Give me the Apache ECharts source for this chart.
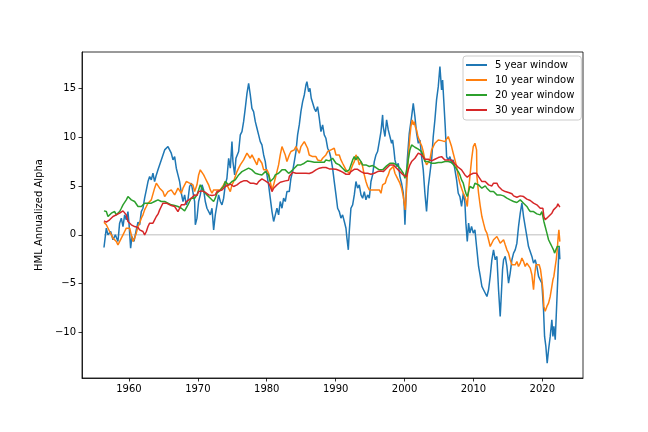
<!DOCTYPE html>
<html>
<head>
<meta charset="utf-8">
<script src="https://cdn.jsdelivr.net/npm/echarts@6/dist/echarts.min.js"></script>
<style>
  html, body { margin: 0; padding: 0; background: #fff; }
  #chart { width: 648px; height: 432px; }
</style>
</head>
<body>
<div id="chart"></div>
<script>
// rolling alpha of HML, [year, annualized alpha %]
var seriesNames = ['5 year window', '10 year window', '20 year window', '30 year window'];
var seriesColors = ['#1f77b4', '#ff7f0e', '#2ca02c', '#d62728'];
var xTicks = [1960, 1970, 1980, 1990, 2000, 2010, 2020];
var yTicks = [-10, -5, 0, 5, 10, 15];
var zeroLine = [[1956.37, 0], [2022.55, 0]];

var alpha5 = [
  [1956.37,-1.30],[1956.71,0.68],[1956.95,0.00],[1957.34,0.34],[1957.68,-0.51],[1958.02,0.00],[1958.40,-0.68],
  [1958.64,1.20],[1958.89,1.71],[1959.13,0.85],[1959.37,2.05],[1959.61,1.54],[1959.85,2.39],[1960.00,1.20],
  [1960.24,-1.37],[1960.43,-0.17],[1960.73,-0.68],[1961.06,0.51],[1961.31,1.30],[1961.55,1.03],[1961.79,2.39],
  [1962.03,2.73],[1962.27,3.76],[1962.52,4.62],[1962.76,5.47],[1963.00,5.98],[1963.24,5.64],[1963.48,6.32],
  [1963.72,5.47],[1963.97,6.15],[1964.21,6.67],[1964.45,6.84],[1964.69,7.69],[1964.93,7.86],[1965.18,8.72],
  [1965.42,8.55],[1965.66,9.06],[1965.90,9.23],[1966.14,8.38],[1966.39,7.69],[1966.63,8.03],[1966.87,6.84],
  [1967.11,6.15],[1967.35,5.47],[1967.60,4.27],[1967.84,3.42],[1968.08,4.10],[1968.32,3.08],[1968.56,3.59],
  [1968.80,4.96],[1969.05,5.30],[1969.29,5.13],[1969.53,3.42],[1969.63,1.03],[1969.87,1.71],[1970.11,3.42],
  [1970.35,4.10],[1970.60,5.13],[1970.84,4.61],[1971.08,3.42],[1971.32,2.73],[1971.56,2.90],[1971.81,2.05],
  [1972.05,2.73],[1972.29,0.51],[1972.53,2.05],[1972.77,3.08],[1973.01,4.10],[1973.26,3.42],[1973.50,3.08],
  [1973.74,3.76],[1973.98,5.13],[1974.22,5.81],[1974.47,7.86],[1974.71,6.84],[1974.95,9.57],[1975.09,7.52],
  [1975.34,6.15],[1975.53,7.86],[1975.92,8.55],[1976.16,10.26],[1976.40,10.60],[1976.64,11.62],[1976.88,12.99],
  [1977.13,14.53],[1977.37,15.56],[1977.61,14.36],[1977.85,12.99],[1978.09,12.65],[1978.34,11.62],[1978.58,10.94],
  [1978.82,10.26],[1979.06,9.57],[1979.30,9.23],[1979.55,8.20],[1979.79,7.52],[1980.03,6.15],[1980.27,5.13],
  [1980.51,3.76],[1980.76,2.39],[1981.00,1.37],[1981.24,2.05],[1981.48,2.73],[1981.72,2.05],[1981.96,3.42],
  [1982.21,2.73],[1982.45,3.76],[1982.69,3.42],[1982.93,4.44],[1983.17,4.61],[1983.27,4.44],[1983.51,5.81],
  [1983.75,6.49],[1984.00,7.52],[1984.24,8.55],[1984.48,10.26],[1984.72,11.28],[1984.96,12.65],[1985.21,13.67],
  [1985.45,14.36],[1985.69,15.38],[1985.83,15.73],[1986.08,14.70],[1986.27,15.04],[1986.46,14.02],[1986.66,14.19],
  [1986.90,12.99],[1987.14,12.65],[1987.38,13.16],[1987.63,11.96],[1987.87,10.60],[1988.11,11.28],[1988.35,10.26],
  [1988.59,9.91],[1988.84,8.89],[1989.08,8.55],[1989.32,7.86],[1989.56,6.84],[1989.80,5.47],[1990.05,4.10],
  [1990.29,2.73],[1990.53,2.39],[1990.77,1.71],[1991.01,2.05],[1991.26,1.37],[1991.50,0.68],[1991.64,-0.34],
  [1991.84,-1.54],[1991.98,0.34],[1992.22,2.73],[1992.47,3.08],[1992.71,4.10],[1992.95,5.47],[1993.19,4.79],
  [1993.43,5.13],[1993.68,4.10],[1993.92,3.76],[1994.16,4.44],[1994.40,3.59],[1994.64,4.10],[1994.89,3.76],
  [1995.13,5.47],[1995.37,6.15],[1995.61,7.52],[1995.85,8.20],[1996.09,8.55],[1996.34,9.57],[1996.58,10.60],
  [1996.82,12.31],[1996.91,11.11],[1997.16,10.09],[1997.40,11.80],[1997.64,10.77],[1997.88,10.09],[1998.12,9.40],
  [1998.27,9.74],[1998.46,8.72],[1998.61,7.69],[1998.85,7.01],[1999.09,7.35],[1999.33,5.98],[1999.57,5.30],
  [1999.82,4.27],[1999.96,2.91],[2000.06,1.03],[2000.20,3.59],[2000.40,7.69],[2000.69,10.43],[2001.03,12.14],
  [2001.27,13.50],[2001.51,12.14],[2001.75,10.43],[2002.00,9.40],[2002.24,9.74],[2002.48,8.03],[2002.72,6.67],
  [2002.96,4.27],[2003.20,2.39],[2003.45,4.96],[2003.69,6.32],[2003.93,7.69],[2004.17,10.09],[2004.41,11.80],
  [2004.65,13.85],[2004.90,15.21],[2005.14,17.27],[2005.38,14.87],[2005.53,15.90],[2005.72,13.50],[2005.91,11.11],
  [2006.11,8.03],[2006.35,7.69],[2006.59,8.03],[2006.83,7.35],[2007.07,7.69],[2007.32,6.67],[2007.56,5.64],
  [2007.80,4.27],[2008.04,3.93],[2008.28,2.91],[2008.53,4.27],[2008.77,3.25],[2008.91,1.20],[2009.11,-0.68],
  [2009.30,1.20],[2009.49,0.17],[2009.73,0.85],[2009.98,0.17],[2010.22,0.51],[2010.46,-1.20],[2010.51,-1.54],
  [2010.75,-3.25],[2011.00,-4.27],[2011.23,-5.30],[2011.47,-5.64],[2011.72,-5.81],[2011.96,-6.33],[2012.20,-5.64],
  [2012.44,-4.27],[2012.68,-2.56],[2012.92,-1.54],[2013.17,-2.56],[2013.41,-2.22],[2013.65,-5.64],[2013.89,-8.38],
  [2014.04,-6.33],[2014.23,-3.59],[2014.38,-2.56],[2014.62,-2.22],[2014.86,-3.25],[2015.10,-4.96],[2015.34,-3.93],
  [2015.59,-2.56],[2015.83,-1.88],[2016.07,-1.54],[2016.31,-0.86],[2016.55,0.85],[2016.80,2.22],[2017.04,3.25],
  [2017.28,1.88],[2017.52,0.85],[2017.76,-0.17],[2018.00,-1.20],[2018.25,-1.20],[2018.49,-2.22],[2018.73,-2.91],
  [2018.97,-2.56],[2019.21,-3.25],[2019.46,-4.27],[2019.70,-4.62],[2019.94,-4.96],[2020.18,-7.69],[2020.33,-10.43],
  [2020.52,-11.46],[2020.71,-13.17],[2020.91,-11.80],[2021.15,-10.43],[2021.39,-8.72],[2021.54,-10.43],[2021.68,-9.40],
  [2021.88,-10.77],[2022.12,-6.67],[2022.26,-4.27],[2022.41,-1.54],[2022.46,-1.20],[2022.55,-2.50]
];

var alpha10 = [
  [1956.37,1.30],[1956.71,1.03],[1956.95,1.09],[1957.19,0.34],[1957.44,0.00],[1957.68,-0.34],[1957.92,-0.51],
  [1958.16,-0.68],[1958.40,-1.03],[1958.64,-0.86],[1958.89,-0.34],[1959.13,0.00],[1959.37,0.34],[1959.61,0.68],
  [1959.85,0.85],[1960.10,0.68],[1960.34,0.00],[1960.58,-0.68],[1960.82,-0.34],[1961.06,0.17],[1961.31,0.85],
  [1961.55,1.20],[1961.79,1.71],[1962.03,2.05],[1962.27,2.56],[1962.52,2.91],[1962.76,3.25],[1963.00,3.42],
  [1963.24,3.59],[1963.48,3.76],[1963.72,4.79],[1963.97,5.30],[1964.21,5.30],[1964.45,4.79],[1964.69,4.62],
  [1964.93,4.44],[1965.18,3.93],[1965.42,3.93],[1965.66,4.44],[1965.90,4.27],[1966.14,4.62],[1966.39,4.44],
  [1966.63,4.10],[1966.87,4.44],[1967.11,4.79],[1967.35,4.62],[1967.60,4.27],[1967.84,4.79],[1968.08,5.13],
  [1968.32,5.47],[1968.56,5.64],[1968.80,5.30],[1969.05,5.47],[1969.29,5.13],[1969.53,4.44],[1969.87,5.13],
  [1970.11,6.15],[1970.35,6.67],[1970.60,6.49],[1970.84,6.15],[1971.08,5.81],[1971.32,5.47],[1971.56,5.13],
  [1971.81,4.61],[1972.05,4.27],[1972.29,4.61],[1972.53,4.44],[1972.77,4.61],[1973.01,4.79],[1973.26,4.61],
  [1973.50,4.79],[1973.74,5.13],[1973.98,5.47],[1974.22,5.13],[1974.47,4.96],[1974.71,4.44],[1974.95,5.13],
  [1975.19,5.47],[1975.43,5.98],[1975.68,6.49],[1975.92,6.84],[1976.16,7.18],[1976.40,7.35],[1976.64,7.69],
  [1976.88,7.86],[1977.13,8.38],[1977.37,8.20],[1977.61,7.86],[1977.85,8.20],[1978.09,8.03],[1978.34,7.52],
  [1978.58,7.18],[1978.82,7.86],[1979.06,7.69],[1979.30,7.35],[1979.55,6.67],[1979.79,6.49],[1980.03,6.67],
  [1980.27,6.32],[1980.51,5.47],[1980.76,4.61],[1981.00,5.13],[1981.24,5.81],[1981.48,6.49],[1981.72,7.18],
  [1981.96,8.20],[1982.21,9.06],[1982.45,8.89],[1982.69,8.20],[1982.93,7.52],[1983.17,7.69],[1983.27,8.20],
  [1983.51,8.55],[1983.75,8.38],[1984.00,8.72],[1984.24,9.06],[1984.48,8.72],[1984.72,8.38],[1984.96,9.06],
  [1985.21,9.23],[1985.45,9.57],[1985.69,9.40],[1985.93,8.89],[1986.17,8.20],[1986.42,8.38],[1986.66,8.03],
  [1986.90,7.86],[1987.14,8.03],[1987.38,7.69],[1987.63,7.52],[1987.87,7.59],[1988.11,7.86],[1988.35,8.03],
  [1988.59,8.20],[1988.84,8.55],[1989.08,8.38],[1989.32,8.72],[1989.56,8.55],[1989.80,8.89],[1990.05,8.20],
  [1990.29,8.38],[1990.53,8.20],[1990.77,7.69],[1991.01,7.35],[1991.26,7.01],[1991.50,6.67],[1991.74,6.49],
  [1991.98,6.32],[1992.22,6.67],[1992.47,7.18],[1992.71,7.52],[1992.95,8.20],[1993.19,7.86],[1993.43,7.18],
  [1993.68,7.52],[1993.92,7.01],[1994.16,6.15],[1994.40,5.47],[1994.64,4.96],[1994.89,4.61],[1995.13,4.79],
  [1995.37,4.61],[1995.61,4.79],[1995.85,4.61],[1996.09,4.79],[1996.34,4.61],[1996.58,4.27],[1996.82,5.13],
  [1997.01,4.96],[1997.20,5.30],[1997.40,5.81],[1997.64,6.15],[1997.88,6.67],[1998.12,6.84],[1998.37,7.01],
  [1998.61,6.32],[1998.85,5.98],[1999.09,5.81],[1999.33,5.30],[1999.57,4.78],[1999.82,3.93],[1999.96,3.25],
  [2000.11,2.56],[2000.20,3.59],[2000.40,5.98],[2000.59,8.38],[2000.78,10.09],[2000.93,11.11],[2001.12,11.80],
  [2001.27,11.28],[2001.41,11.62],[2001.56,11.11],[2001.75,10.77],[2001.95,10.09],[2002.14,10.26],[2002.33,9.40],
  [2002.53,9.06],[2002.72,8.55],[2002.96,7.69],[2003.20,7.18],[2003.45,7.01],[2003.69,7.69],[2003.93,8.72],
  [2004.17,8.89],[2004.41,9.40],[2004.65,9.57],[2004.90,9.74],[2005.14,9.74],[2005.38,9.67],[2005.62,9.74],
  [2005.86,9.57],[2006.11,9.74],[2006.35,10.09],[2006.59,9.91],[2006.83,9.06],[2007.07,8.38],[2007.32,7.69],
  [2007.56,7.01],[2007.80,5.98],[2008.04,5.30],[2008.28,4.78],[2008.53,4.27],[2008.77,3.93],[2008.91,3.59],
  [2009.11,2.91],[2009.30,4.61],[2009.49,5.98],[2009.73,7.69],[2009.98,9.06],[2010.22,9.40],[2010.46,8.72],
  [2010.51,5.98],[2010.75,4.27],[2011.00,2.91],[2011.23,1.88],[2011.47,1.20],[2011.72,0.51],[2011.96,0.17],
  [2012.20,-0.51],[2012.44,-1.20],[2012.68,-1.37],[2012.92,-0.51],[2013.17,-0.34],[2013.41,-0.17],[2013.65,-0.51],
  [2013.89,-0.86],[2014.13,-0.69],[2014.38,-0.51],[2014.62,-1.03],[2014.86,-1.54],[2015.10,-1.88],[2015.34,-2.56],
  [2015.59,-3.08],[2015.83,-2.91],[2016.07,-3.08],[2016.31,-2.74],[2016.55,-3.25],[2016.80,-2.91],[2017.04,-2.39],
  [2017.28,-2.74],[2017.52,-3.25],[2017.76,-2.91],[2018.00,-3.08],[2018.25,-3.42],[2018.49,-4.10],[2018.73,-5.64],
  [2018.88,-4.27],[2019.07,-3.08],[2019.31,-3.25],[2019.55,-3.08],[2019.75,-3.59],[2019.94,-4.62],[2020.09,-5.64],
  [2020.23,-7.35],[2020.42,-7.86],[2020.67,-7.35],[2020.91,-7.01],[2021.15,-6.33],[2021.39,-5.30],[2021.54,-4.62],
  [2021.68,-4.27],[2021.88,-3.25],[2022.02,-2.56],[2022.17,-1.54],[2022.31,-0.17],[2022.41,0.51],[2022.55,-0.70]
];

var alpha20 = [
  [1956.37,2.46],[1956.71,2.39],[1956.95,1.88],[1957.19,2.05],[1957.44,2.22],[1957.68,2.05],[1957.92,2.39],
  [1958.16,2.05],[1958.40,2.22],[1958.64,2.39],[1958.89,2.73],[1959.13,3.08],[1959.37,3.25],[1959.61,3.59],
  [1959.85,3.93],[1960.10,3.76],[1960.34,3.59],[1960.58,3.76],[1960.82,3.42],[1961.06,3.25],[1961.31,2.91],
  [1961.55,2.73],[1961.79,2.91],[1962.03,3.08],[1962.27,3.25],[1962.52,3.42],[1962.76,3.25],[1963.00,3.08],
  [1963.24,3.25],[1963.48,3.15],[1963.72,3.42],[1963.97,3.49],[1964.21,3.59],[1964.45,3.76],[1964.69,3.42],
  [1964.93,3.25],[1965.18,3.42],[1965.66,3.25],[1966.14,3.08],[1966.63,3.01],[1967.11,2.91],[1967.60,2.73],
  [1967.84,2.56],[1968.08,2.46],[1968.32,2.56],[1968.56,3.08],[1968.80,3.42],[1969.05,3.76],[1969.29,3.93],
  [1969.53,3.76],[1969.87,4.10],[1970.11,4.61],[1970.35,5.13],[1970.60,4.79],[1970.84,4.44],[1971.08,4.27],
  [1971.32,4.10],[1971.56,3.93],[1971.81,3.76],[1972.05,3.59],[1972.29,3.42],[1972.53,3.76],[1972.77,4.27],
  [1973.01,4.44],[1973.26,4.61],[1973.50,4.61],[1973.74,4.96],[1973.98,5.47],[1974.22,5.30],[1974.47,5.13],
  [1974.71,5.30],[1974.95,5.47],[1975.19,5.54],[1975.43,5.64],[1975.68,5.81],[1975.92,6.15],[1976.16,6.32],
  [1976.40,6.49],[1976.64,6.49],[1976.88,6.67],[1977.13,6.84],[1977.37,6.84],[1977.61,7.01],[1977.85,6.67],
  [1978.09,6.49],[1978.34,6.32],[1978.58,6.32],[1978.82,6.22],[1979.06,6.15],[1979.30,6.15],[1979.55,6.32],
  [1979.79,6.49],[1980.03,6.67],[1980.27,6.15],[1980.51,5.47],[1980.76,5.30],[1981.00,5.81],[1981.24,6.15],
  [1981.48,6.15],[1981.72,6.32],[1981.96,6.49],[1982.21,6.67],[1982.45,6.84],[1982.69,6.67],[1982.93,6.49],
  [1983.17,6.32],[1983.27,6.15],[1983.51,6.49],[1983.75,6.67],[1984.00,6.84],[1984.24,7.01],[1984.48,7.18],
  [1984.72,7.35],[1984.96,7.18],[1985.21,7.01],[1985.45,7.35],[1985.69,7.45],[1985.93,7.59],[1986.17,7.69],
  [1986.42,7.52],[1986.66,7.35],[1986.90,7.45],[1987.14,7.35],[1987.38,7.45],[1987.63,7.35],[1987.87,7.45],
  [1988.11,7.52],[1988.35,7.45],[1988.59,7.69],[1988.84,7.52],[1989.08,7.59],[1989.32,7.45],[1989.56,7.86],
  [1989.80,7.69],[1990.05,7.35],[1990.29,7.25],[1990.53,7.18],[1990.77,7.01],[1991.01,6.84],[1991.26,6.67],
  [1991.50,6.49],[1991.74,6.56],[1991.98,6.67],[1992.22,7.18],[1992.47,7.69],[1992.71,8.03],[1992.95,7.69],
  [1993.19,8.03],[1993.43,7.86],[1993.68,7.52],[1993.92,7.18],[1994.16,7.01],[1994.40,7.18],[1994.64,7.25],
  [1994.89,7.01],[1995.13,7.18],[1995.37,7.11],[1995.61,7.01],[1995.85,6.91],[1996.09,6.84],[1996.34,6.67],
  [1996.58,6.77],[1996.82,6.67],[1996.91,6.84],[1997.40,7.08],[1997.88,7.35],[1998.12,7.52],[1998.37,7.35],
  [1998.61,7.52],[1998.85,7.18],[1999.09,7.01],[1999.33,6.84],[1999.57,6.67],[1999.82,6.32],[2000.06,5.81],
  [2000.30,6.67],[2000.54,7.69],[2000.78,8.72],[2001.03,9.23],[2001.27,9.40],[2001.51,8.99],[2001.75,8.89],
  [2002.00,8.79],[2002.24,8.72],[2002.48,8.55],[2002.72,8.03],[2002.96,7.52],[2003.20,7.35],[2003.45,7.52],
  [2003.69,7.69],[2003.93,7.35],[2004.17,7.52],[2004.41,7.35],[2004.65,7.28],[2004.90,7.42],[2005.14,7.28],
  [2005.38,7.42],[2005.62,7.35],[2005.86,7.52],[2006.11,7.35],[2006.35,7.52],[2006.59,7.35],[2006.83,7.42],
  [2007.07,7.28],[2007.32,7.01],[2007.56,6.84],[2007.80,6.49],[2008.04,6.15],[2008.28,5.64],[2008.53,5.30],
  [2008.77,4.61],[2008.91,4.27],[2009.11,3.93],[2009.30,4.44],[2009.49,4.96],[2009.73,4.96],[2009.98,4.78],
  [2010.22,5.30],[2010.46,5.47],[2010.75,5.13],[2011.00,4.96],[2011.23,4.79],[2011.47,4.96],[2011.72,5.02],
  [2011.96,4.79],[2012.20,4.62],[2012.44,4.44],[2012.68,4.62],[2012.92,4.44],[2013.17,4.27],[2013.41,4.10],
  [2013.65,4.00],[2013.89,4.10],[2014.13,3.93],[2014.38,4.00],[2014.62,3.93],[2014.86,3.76],[2015.10,3.66],
  [2015.34,3.59],[2015.59,3.52],[2015.83,3.42],[2016.07,3.42],[2016.31,3.32],[2016.55,3.42],[2016.80,3.59],
  [2017.04,3.66],[2017.28,3.25],[2017.52,3.08],[2017.76,2.91],[2018.00,2.63],[2018.25,2.39],[2018.49,2.22],
  [2018.73,2.39],[2018.97,2.22],[2019.21,2.15],[2019.46,1.95],[2019.70,2.05],[2019.94,2.39],[2020.09,1.88],
  [2020.23,1.37],[2020.42,0.85],[2020.67,0.17],[2020.91,-0.51],[2021.15,-0.86],[2021.39,-1.20],[2021.63,-1.54],
  [2021.78,-1.88],[2021.97,-1.71],[2022.17,-1.20],[2022.36,-1.03],[2022.55,-1.20]
];

var alpha30 = [
  [1956.37,1.43],[1956.71,1.30],[1956.95,1.20],[1957.19,1.54],[1957.44,1.71],[1957.68,1.88],[1957.92,1.88],
  [1958.16,2.05],[1958.40,2.12],[1958.64,2.22],[1958.89,2.39],[1959.13,2.46],[1959.37,2.32],[1959.61,2.05],
  [1959.85,1.37],[1960.10,1.20],[1960.34,1.03],[1960.58,0.96],[1960.82,0.85],[1961.06,0.68],[1961.31,0.75],
  [1961.55,0.51],[1961.79,0.41],[1962.03,0.34],[1962.27,0.00],[1962.52,0.34],[1962.76,0.85],[1963.00,1.20],
  [1963.24,1.30],[1963.48,1.20],[1963.72,1.54],[1963.97,1.88],[1964.21,2.12],[1964.45,2.56],[1964.69,2.91],
  [1964.93,3.25],[1965.18,3.42],[1965.42,3.25],[1965.66,3.08],[1966.14,3.01],[1966.63,2.91],[1966.87,2.80],
  [1967.11,2.39],[1967.35,2.73],[1967.60,3.08],[1967.84,2.91],[1968.08,3.08],[1968.32,3.42],[1968.56,3.59],
  [1969.05,3.76],[1969.29,3.93],[1969.53,4.10],[1969.87,4.03],[1970.11,4.44],[1970.35,4.61],[1970.60,4.51],
  [1970.84,4.44],[1971.08,4.37],[1971.32,4.27],[1971.56,4.10],[1971.81,4.17],[1972.05,4.03],[1972.29,3.93],
  [1972.53,4.10],[1972.77,4.44],[1973.01,4.61],[1973.50,4.61],[1973.74,4.79],[1973.98,4.96],[1974.22,5.13],
  [1974.71,5.20],[1974.95,5.13],[1975.19,4.96],[1975.43,4.96],[1975.68,5.13],[1975.92,5.30],[1976.16,5.40],
  [1976.40,5.47],[1976.64,5.54],[1976.88,5.64],[1977.13,5.54],[1977.37,5.47],[1977.61,5.30],[1977.85,5.13],
  [1978.09,5.30],[1978.34,5.40],[1978.58,5.20],[1978.82,5.47],[1979.06,5.64],[1979.30,5.74],[1979.55,5.64],
  [1979.79,5.54],[1980.03,5.47],[1980.27,5.30],[1980.51,4.96],[1980.76,4.44],[1981.00,4.79],[1981.24,4.96],
  [1981.48,5.13],[1981.72,5.30],[1981.96,5.40],[1982.21,5.47],[1982.69,5.54],[1983.17,5.61],[1983.27,5.98],
  [1983.51,6.15],[1983.75,6.43],[1984.00,6.49],[1984.24,6.32],[1984.48,6.22],[1984.72,6.32],[1984.96,6.43],
  [1985.21,6.32],[1985.45,6.25],[1985.69,6.32],[1985.93,6.36],[1986.17,6.29],[1986.42,6.39],[1986.66,6.43],
  [1986.90,6.56],[1987.14,6.67],[1987.38,6.77],[1987.63,6.84],[1987.87,6.91],[1988.11,6.91],[1988.35,6.97],
  [1988.59,6.91],[1988.84,6.84],[1989.08,6.77],[1989.32,6.84],[1989.56,6.77],[1989.80,6.84],[1990.05,6.73],
  [1990.29,6.67],[1990.53,6.60],[1990.77,6.49],[1991.01,6.43],[1991.26,6.32],[1991.50,6.22],[1991.74,6.15],
  [1991.98,6.22],[1992.22,6.49],[1992.47,6.67],[1992.71,6.73],[1992.95,6.67],[1993.19,6.73],[1993.43,6.67],
  [1993.68,6.49],[1993.92,6.43],[1994.16,6.32],[1994.40,6.22],[1994.64,6.32],[1994.89,6.15],[1995.13,6.22],
  [1995.37,6.15],[1995.61,6.32],[1995.85,6.39],[1996.09,6.49],[1996.34,6.43],[1996.58,6.56],[1996.82,6.60],
  [1996.91,6.49],[1997.40,6.84],[1997.88,7.18],[1998.12,7.35],[1998.37,7.18],[1998.61,7.01],[1998.85,6.84],
  [1999.09,6.67],[1999.33,6.49],[1999.57,6.32],[1999.82,6.15],[2000.06,6.15],[2000.30,5.98],[2000.54,6.67],
  [2000.78,7.18],[2001.03,7.52],[2001.27,7.69],[2001.51,7.86],[2001.75,8.03],[2002.00,8.38],[2002.24,8.55],
  [2002.48,8.20],[2002.72,8.03],[2002.96,7.76],[2003.20,7.69],[2003.45,7.76],[2003.69,7.69],[2003.93,7.59],
  [2004.17,7.69],[2004.41,7.76],[2004.65,7.86],[2004.90,7.93],[2005.14,7.86],[2005.38,8.03],[2005.62,7.86],
  [2005.86,7.69],[2006.11,7.76],[2006.35,7.69],[2006.59,7.62],[2006.83,7.69],[2007.07,7.52],[2007.32,7.28],
  [2007.56,7.08],[2007.80,6.94],[2008.04,6.74],[2008.28,6.67],[2008.53,6.49],[2008.77,6.15],[2008.91,6.05],
  [2009.11,5.91],[2009.30,5.98],[2009.49,6.15],[2009.73,6.15],[2009.98,6.32],[2010.22,6.22],[2010.46,6.32],
  [2010.75,5.98],[2011.00,5.81],[2011.23,5.47],[2011.47,5.64],[2011.72,5.47],[2011.96,5.30],[2012.20,5.13],
  [2012.44,4.96],[2012.68,5.02],[2012.92,5.30],[2013.17,5.13],[2013.41,5.30],[2013.65,4.96],[2013.89,4.79],
  [2014.13,4.62],[2014.38,4.68],[2014.62,4.44],[2014.86,4.55],[2015.10,4.34],[2015.34,4.27],[2015.59,4.21],
  [2015.83,4.00],[2016.07,3.93],[2016.31,3.86],[2016.55,3.93],[2016.80,4.00],[2017.04,4.10],[2017.28,3.93],
  [2017.52,3.76],[2017.76,3.66],[2018.00,3.59],[2018.25,3.52],[2018.49,3.42],[2018.73,3.25],[2018.97,3.18],
  [2019.21,3.08],[2019.46,2.91],[2019.70,2.73],[2019.94,2.91],[2020.09,2.73],[2020.23,1.88],[2020.42,1.54],
  [2020.67,1.71],[2020.91,1.88],[2021.15,2.05],[2021.39,2.22],[2021.63,2.56],[2021.88,2.73],[2022.12,2.91],
  [2022.26,3.18],[2022.46,3.08],[2022.55,2.84]
];

var seriesData = [alpha5, alpha10, alpha20, alpha30];

var font = 'DejaVu Sans';
var myChart = echarts.init(document.getElementById('chart'), null, { renderer: 'canvas' });

var series = [{
    name: 'zero',
    type: 'line',
    data: zeroLine,
    showSymbol: false,
    silent: true,
    z: 1,
    lineStyle: { color: '#d3d3d3', width: 1.5 }
}];
seriesNames.forEach(function (name, i) {
    series.push({
        name: name,
        type: 'line',
        data: seriesData[i],
        showSymbol: false,
        z: 2 + i,
        color: seriesColors[i],
        lineStyle: { color: seriesColors[i], width: 1.5 }
    });
});

var option = {
    animation: false,
    backgroundColor: '#ffffff',
    grid: {
        left: 82, right: 65, top: 52, bottom: 54,
        show: true, borderColor: '#000', borderWidth: 0.8, backgroundColor: 'transparent'
    },
    legend: {
        data: seriesNames,
        orient: 'vertical',
        left: 463, top: 56,
        icon: 'rect',
        itemWidth: 21, itemHeight: 2,
        itemGap: 3,
        padding: [3, 7, 4, 3],
        backgroundColor: 'rgba(255,255,255,0.8)',
        borderColor: '#cccccc', borderWidth: 1, borderRadius: 3,
        textStyle: { fontFamily: font, fontSize: 10, color: '#000', lineHeight: 12, padding: [0, 0, 0, 3] }
    },
    xAxis: {
        type: 'value',
        min: 1953.18, max: 2025.91,
        splitLine: { show: false },
        axisLine: { onZero: false, lineStyle: { color: '#000', width: 0.8 } },
        axisTick: { length: 3.5, lineStyle: { color: '#000', width: 0.8 }, customValues: xTicks },
        axisLabel: { customValues: xTicks, margin: 6, fontFamily: font, fontSize: 10, color: '#000',
            formatter: function (v) { return String(v); } }
    },
    yAxis: {
        type: 'value',
        min: -14.7, max: 18.77,
        name: 'HML Annualized Alpha',
        nameLocation: 'middle',
        nameRotate: 90,
        nameGap: 30,
        nameTextStyle: { fontFamily: font, fontSize: 10, color: '#000' },
        splitLine: { show: false },
        axisLine: { onZero: false, lineStyle: { color: '#000', width: 0.8 } },
        axisTick: { length: 3.5, lineStyle: { color: '#000', width: 0.8 }, customValues: yTicks },
        axisLabel: { customValues: yTicks, margin: 6, fontFamily: font, fontSize: 10, color: '#000',
            formatter: function (v) { return String(v).replace('-', '\u2212'); } }
    },
    series: series
};

myChart.setOption(option);
</script>
</body>
</html>
